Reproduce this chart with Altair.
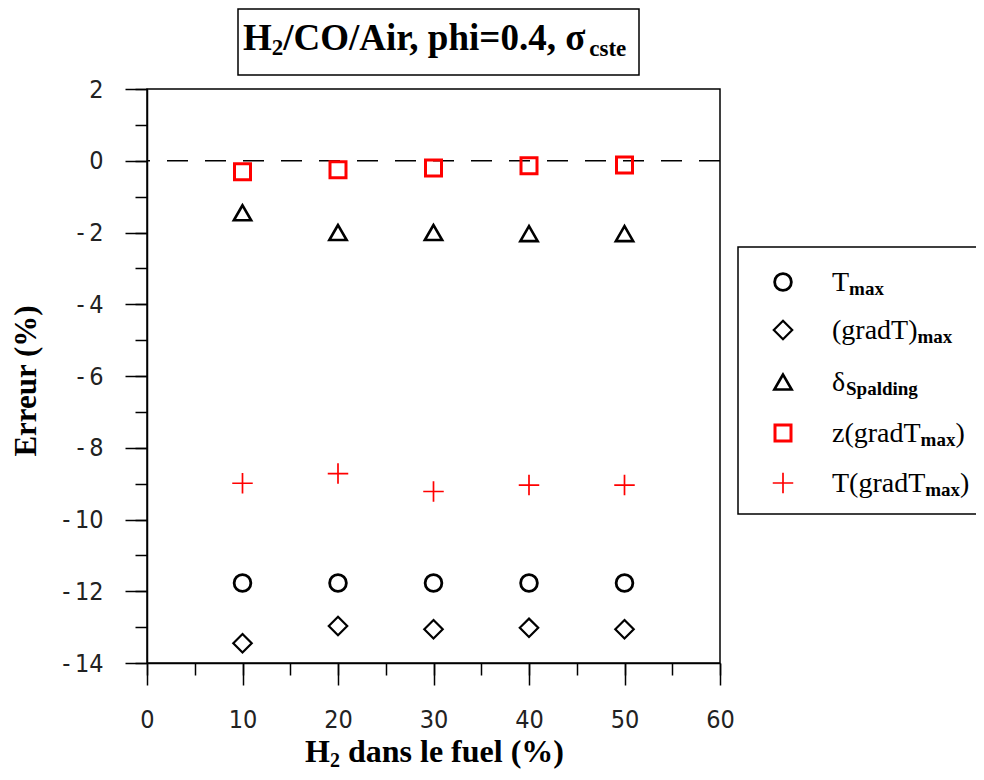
import altair as alt
import pandas as pd

# ---------------- data ----------------
h2_pct = [10, 20, 30, 40, 50]
err_tmax = [-11.77, -11.77, -11.77, -11.77, -11.77]
err_gradT_max = [-13.45, -12.97, -13.06, -13.02, -13.06]
err_delta_spalding = [-1.45, -2.0, -2.0, -2.03, -2.03]
err_z_gradT = [-0.31, -0.25, -0.2, -0.14, -0.12]
err_T_gradT = [-8.99, -8.72, -9.22, -9.04, -9.04]

series_names = ["Tmax", "(gradT)max", "delta_Spalding", "z(gradTmax)", "T(gradTmax)"]
series_values = [err_tmax, err_gradT_max, err_delta_spalding, err_z_gradT, err_T_gradT]

x_major = [0, 10, 20, 30, 40, 50, 60]
x_minor = [0, 5, 10, 15, 20, 25, 30, 35, 40, 45, 50, 55, 60]
y_major = [-14, -12, -10, -8, -6, -4, -2, 0, 2]
y_minor = list(range(-14, 3))

rows = []
for name, vals in zip(series_names, series_values):
    for x, v in zip(h2_pct, vals):
        rows.append({"series": name, "h2": x, "err": v})
df = pd.DataFrame(rows)

# ---------------- layout ----------------
W, H = 573, 574
SERIF = "Liberation Serif"
LABEL_FONT = "Liberation Sans Narrow, DejaVu Sans Condensed, Liberation Sans"

PLUS = "M-1,0H1M0,-1V1"
styles = {
    "Tmax": dict(shape="circle", color="black", size=280, sw=2.8),
    "(gradT)max": dict(shape="diamond", color="black", size=340, sw=2.2),
    "delta_Spalding": dict(shape="triangle-up", color="black", size=300, sw=2.6),
    "z(gradTmax)": dict(shape="square", color="#ff0000", size=256, sw=3),
    "T(gradTmax)": dict(shape=PLUS, color="#ff0000", size=420, sw=1.7),
}

# Times / Liberation Serif advance widths (per em)
REG = {"T": .611, "(": .333, ")": .333, "g": .5, "r": .333, "a": .444, "d": .5,
       "z": .444, "δ": .5}
BOLD = {"H": .778, "/": .278, "C": .722, "O": .778, "A": .722, "i": .278, "r": .444,
        ",": .25, " ": .25, "p": .556, "h": .556, "=": .57, "0": .5, ".": .25, "4": .5,
        "σ": .56, "c": .444, "s": .389, "t": .333, "e": .444, "2": .5, "d": .556,
        "a": .5, "n": .556, "l": .278, "f": .333, "u": .556, "%": 1.0, "(": .333,
        ")": .333, "m": .833, "x": .5, "S": .556, "g": .5}


def tw(s, size, table):
    return sum(table.get(ch, .5) for ch in s) * size


xscale = alt.Scale(domain=[0, 60], nice=False, zero=False)
yscale = alt.Scale(domain=[-14, 2], nice=False, zero=False)

hyphen_expr = "datum.value < 0 ? '-\u2009' + abs(datum.value) : '' + datum.value"
ax_common = dict(grid=False, title=None, tickColor="black", tickWidth=1.5,
                 domainColor="black", domainWidth=1.5)
x_axis_major = alt.Axis(values=x_major, tickSize=22, labelFontSize=25, labelFont=LABEL_FONT,
                        labelColor="#222", labelPadding=22, orient="bottom",
                        labelFlush=False, labelExpr=hyphen_expr, **ax_common)
x_axis_minor = alt.Axis(values=x_minor, tickSize=12, labels=False, domain=False,
                        orient="bottom", grid=False, title=None, tickColor="black",
                        tickWidth=1.5)
y_axis_major = alt.Axis(values=y_major, tickSize=22, labelFontSize=25, labelFont=LABEL_FONT,
                        labelColor="#222", labelPadding=22, orient="left",
                        labelFlush=False, labelExpr=hyphen_expr, **ax_common)
y_axis_minor = alt.Axis(values=y_minor, tickSize=12, labels=False, domain=False,
                        orient="left", grid=False, title=None, tickColor="black",
                        tickWidth=1.5)

layers = []

# zero dashed reference line
zero_line = alt.Chart(pd.DataFrame({"z": [0]})).mark_rule(
    color="black", strokeWidth=1.5, strokeDash=[21, 17]
).encode(y=alt.Y("z:Q", scale=yscale, axis=None))
layers.append(zero_line)

for i, name in enumerate(series_names):
    st = styles[name]
    if i == 0:
        xa, ya = x_axis_major, y_axis_major
    elif i == 1:
        xa, ya = x_axis_minor, y_axis_minor
    else:
        xa, ya = None, None
    layer = alt.Chart(df).transform_filter(alt.datum.series == name).mark_point(
        shape=st["shape"], size=st["size"], strokeWidth=st["sw"], color=st["color"],
        filled=False, opacity=1,
    ).encode(
        x=alt.X("h2:Q", scale=xscale, axis=xa),
        y=alt.Y("err:Q", scale=yscale, axis=ya),
    )
    layers.append(layer)

one = pd.DataFrame({"a": [0]})


def text(t, x, y, size, bold=False, align="left", baseline="alphabetic", angle=0,
         color="black"):
    kw = dict(text=t, font=SERIF, fontSize=size, fontWeight="bold" if bold else "normal",
              align=align, baseline=baseline, color=color)
    if angle:
        kw["angle"] = angle
    return alt.Chart(one).mark_text(**kw).encode(x=alt.value(x), y=alt.value(y))


def box(x1, x2, y1, y2):
    return alt.Chart(one).mark_rect(fill="white", stroke="black", strokeWidth=1.5).encode(
        x=alt.value(x1), x2=alt.value(x2), y=alt.value(y1), y2=alt.value(y2))


# ---- title box ----
layers.append(box(91, 492, -80, -14))
F, FS = 37, 23
x0 = 96
layers.append(text("H", x0, -39, F, bold=True))
x1 = x0 + tw("H", F, BOLD)
layers.append(text("2", x1, -34, FS, bold=True))
x2 = x1 + tw("2", FS, BOLD)
rest = "/CO/Air, phi=0.4, σ"
layers.append(text(rest, x2, -39, F, bold=True))
x3 = x2 + tw(rest, F, BOLD)
layers.append(text("cste", x3, -33, FS, bold=True))

# ---- axis titles ----
layers.append(text("Erreur (%)", -120, 292, 31, bold=True, align="center",
                   baseline="middle", angle=270))
XF, XS = 32, 20
xt_rest = "dans le fuel (%)"
total = tw("H", XF, BOLD) + tw("2", XS, BOLD) + tw(" ", XF, BOLD) + tw(xt_rest, XF, BOLD)
xs = W / 2 + 1 - total / 2
XB = 673
layers.append(text("H", xs, XB, XF, bold=True))
xs2 = xs + tw("H", XF, BOLD)
layers.append(text("2", xs2, XB + 5, XS, bold=True))
xs3 = xs2 + tw("2", XS, BOLD) + tw(" ", XF, BOLD)
layers.append(text(xt_rest, xs3, XB, XF, bold=True))

# ---- legend ----
layers.append(box(591, 845, 158, 425))
LX_SYM, LX_TXT = 636, 685
row_y = [193, 241, 293, 344, 394]
LF, LS = 28, 19
legend_text = [
    ("T", "max", ""),
    ("(gradT)", "max", ""),
    ("δ", "Spalding", ""),
    ("z(gradT", "max", ")"),
    ("T(gradT", "max", ")"),
]
for name, ry, (main, sub, tail) in zip(series_names, row_y, legend_text):
    st = styles[name]
    layers.append(alt.Chart(one).mark_point(
        shape=st["shape"], size=st["size"], strokeWidth=st["sw"], color=st["color"],
        filled=False, opacity=1,
    ).encode(x=alt.value(LX_SYM), y=alt.value(ry)))
    layers.append(text(main, LX_TXT, ry + 9, LF))
    sx = LX_TXT + tw(main, LF, REG)
    layers.append(text(sub, sx, ry + 13, LS, bold=True))
    if tail:
        tx = sx + tw(sub, LS, BOLD)
        layers.append(text(tail, tx, ry + 9, LF))

chart = alt.layer(*layers).resolve_axis(x="independent", y="independent").properties(
    width=W, height=H,
    autosize=alt.AutoSizeParams(type="none"),
    padding={"left": 139, "top": 81, "right": 256, "bottom": 109},
).configure(background="white").configure_view(stroke="black", strokeWidth=1.5)

chart.save("out.html", embed_options={"renderer": "svg", "actions": False})
